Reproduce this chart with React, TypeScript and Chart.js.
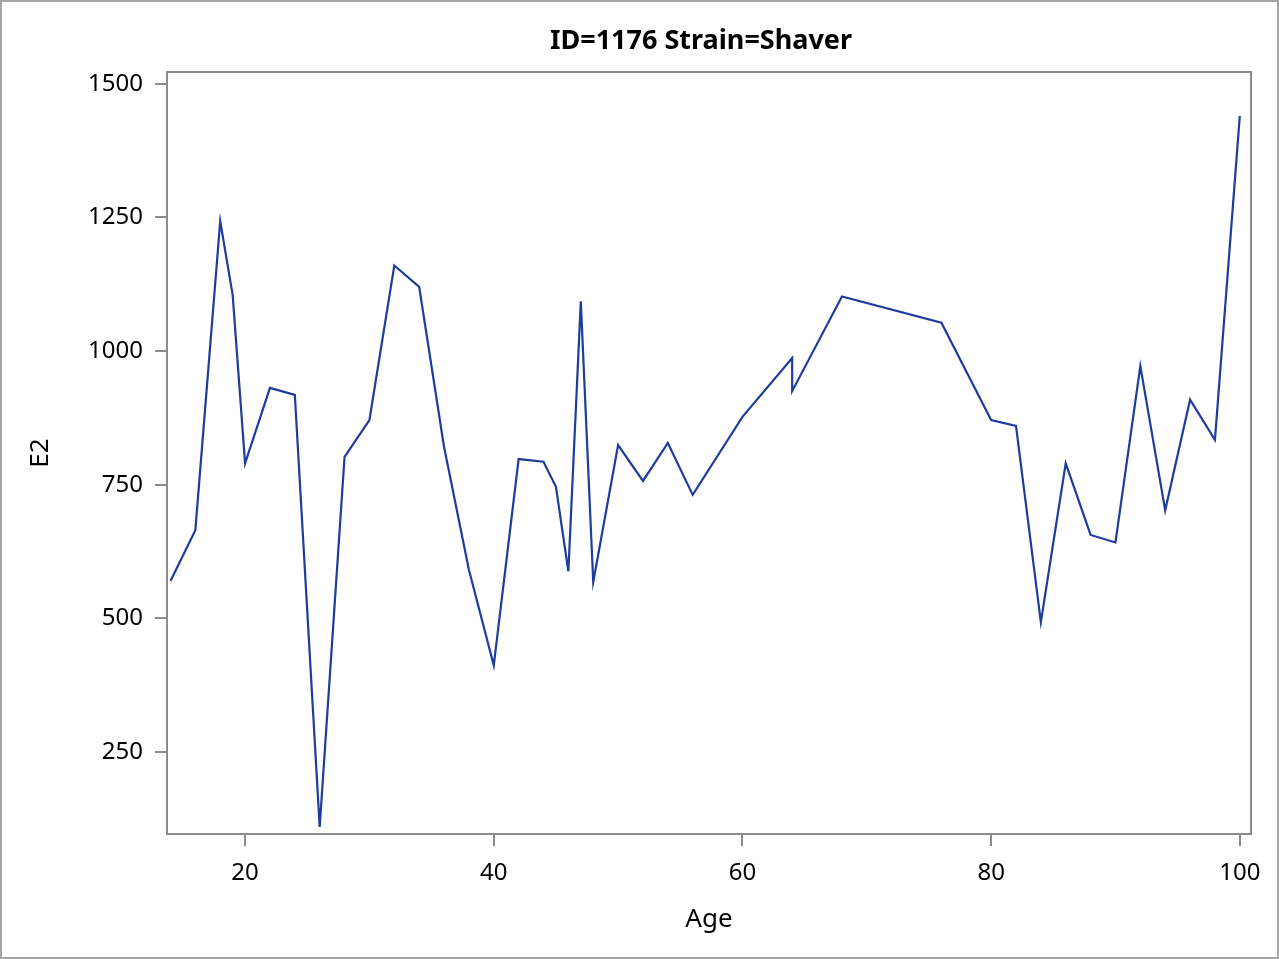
import React, { useEffect, useRef } from "react";
import { Chart, registerables } from "chart.js";

Chart.register(...registerables);

const ages = [14, 16, 18, 19, 20, 22, 24, 26, 28, 30, 32, 34, 36, 38, 40, 42, 44, 45, 46, 47, 48, 50, 52, 54, 56, 60, 64, 64, 68, 76, 80, 82, 84, 86, 88, 90, 92, 94, 96, 98, 100];
const e2Values = [570, 665, 1243, 1105, 790, 931, 918, 110, 802, 871, 1160, 1120, 821, 591, 412, 798, 793, 746, 588, 1093, 568, 824, 757, 828, 731, 877, 987, 925, 1102, 1053, 871, 860, 493, 790, 656, 642, 972, 702, 909, 834, 1440];
const xTickValues = [20, 40, 60, 80, 100];
const yTickValues = [250, 500, 750, 1000, 1250, 1500];
const titleText = "ID=1176 Strain=Shaver";
const xTitle = "Age";
const yTitle = "E2";

const FONT = "'Noto Sans', 'Open Sans', sans-serif";

const decorPlugin = {
  id: "decor",
  afterDraw(chart: any) {
    const { ctx, chartArea } = chart;
    ctx.save();
    ctx.strokeStyle = "#8c8c8c";
    ctx.lineWidth = 2;
    ctx.strokeRect(chartArea.left, chartArea.top, chartArea.right - chartArea.left, chartArea.bottom - chartArea.top);
    ctx.strokeStyle = "#a6a6a6";
    ctx.lineWidth = 2;
    ctx.strokeRect(1, 1, chart.width - 2, chart.height - 2);
    ctx.fillStyle = "#000";
    ctx.font = `bold 27px ${FONT}`;
    ctx.textAlign = "center";
    ctx.textBaseline = "middle";
    ctx.fillText(titleText, 701, 41);
    ctx.restore();
  },
};

export default function App() {
  const canvasRef = useRef<HTMLCanvasElement | null>(null);

  useEffect(() => {
    if (!canvasRef.current) return;
    const points = ages.map((a, i) => ({ x: a, y: e2Values[i] }));
    const chart = new Chart(canvasRef.current, {
      type: "scatter",
      data: {
        datasets: [
          {
            data: points,
            showLine: true,
            borderColor: "#1e3c9e",
            backgroundColor: "#1e3c9e",
            borderWidth: 2.2,
            pointRadius: 0,
            tension: 0,
          },
        ],
      },
      options: {
        responsive: false,
        animation: false,
        layout: { padding: { left: 0, top: 72, right: 28, bottom: 0 } },
        plugins: {
          legend: { display: false },
          tooltip: { enabled: false },
          title: { display: false },
        },
        scales: {
          x: {
            type: "linear",
            min: 13.72,
            max: 100.9,
            afterBuildTicks: (scale: any) => {
              scale.ticks = xTickValues.map((v) => ({ value: v }));
            },
            afterFit: (scale: any) => {
              scale.height = 125;
            },
            border: { display: false },
            grid: {
              drawOnChartArea: false,
              drawTicks: true,
              tickLength: 12,
              color: "#8c8c8c",
              lineWidth: 2,
            },
            ticks: {
              color: "#000",
              font: { family: FONT, size: 24 },
              padding: 13,
              maxRotation: 0,
              callback: (v: any) => String(v),
            },
            title: {
              display: true,
              text: xTitle,
              color: "#000",
              font: { family: FONT, size: 26 },
              padding: { top: 0, bottom: 24 },
            },
          },
          y: {
            type: "linear",
            min: 96.6,
            max: 1522,
            afterBuildTicks: (scale: any) => {
              scale.ticks = yTickValues.map((v) => ({ value: v }));
            },
            afterFit: (scale: any) => {
              scale.width = 167;
            },
            border: { display: false },
            grid: {
              drawOnChartArea: false,
              drawTicks: true,
              tickLength: 12,
              color: "#8c8c8c",
              lineWidth: 2,
            },
            ticks: {
              color: "#000",
              font: { family: FONT, size: 24 },
              padding: 12,
              callback: (v: any) => String(v),
            },
            title: {
              display: true,
              text: yTitle,
              color: "#000",
              font: { family: FONT, size: 26 },
              padding: { top: 25, bottom: 0 },
            },
          },
        },
      },
      plugins: [decorPlugin],
    });
    return () => chart.destroy();
  }, []);

  return (
    <div style={{ position: "absolute", left: 0, top: 0, width: 1279, height: 959, background: "#fff" }}>
      <canvas ref={canvasRef} width={1279} height={959} style={{ display: "block" }} />
    </div>
  );
}
